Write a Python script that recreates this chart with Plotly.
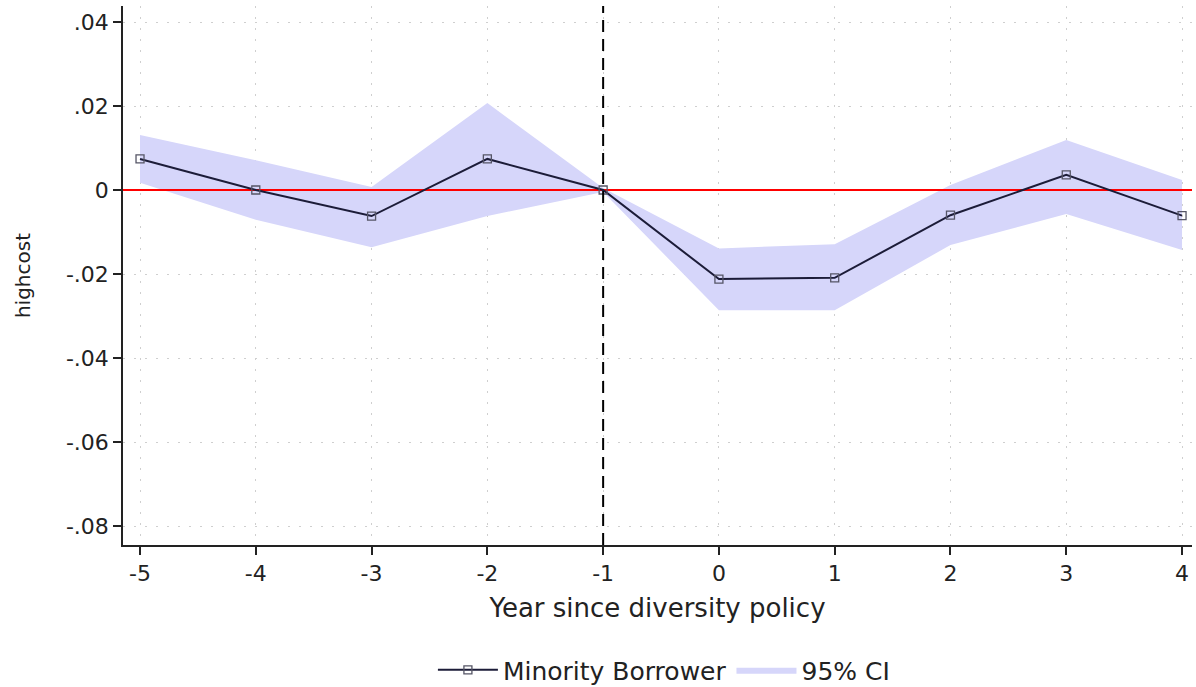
import plotly.graph_objects as go

# Event-study estimates for the minority-borrower coefficient
years = [-5, -4, -3, -2, -1, 0, 1, 2, 3, 4]
coef = [0.0074, 0.0000, -0.0062, 0.0074, 0.0000, -0.0212, -0.0209, -0.0060, 0.0036, -0.0061]
ci_upper = [0.0131, 0.0071, 0.0007, 0.0207, 0.0005, -0.0139, -0.0129, 0.0012, 0.0119, 0.0024]
ci_lower = [0.0017, -0.0071, -0.0136, -0.0062, -0.0005, -0.0286, -0.0286, -0.0131, -0.0057, -0.0143]

y_ticks = [0.04, 0.02, 0.0, -0.02, -0.04, -0.06, -0.08]
y_tick_labels = [".04", ".02", "0", "-.02", "-.04", "-.06", "-.08"]
x_ticks = years

font_family = "DejaVu Sans"
text_color = "#222222"
ci_fill = "rgb(214,214,250)"
grid_style = dict(showgrid=True, gridcolor="#cfcfcf", griddash="2px,9px", gridwidth=1.2)
axis_style = dict(showline=True, linecolor=text_color, linewidth=1.5,
                  ticks="outside", ticklen=8, tickwidth=1.5, tickcolor=text_color,
                  zeroline=False, automargin=False)

fig = go.Figure()

# Confidence band
fig.add_trace(go.Scatter(
    x=years, y=ci_lower, mode="lines", line=dict(width=0),
    showlegend=False, hoverinfo="skip",
))
fig.add_trace(go.Scatter(
    x=years, y=ci_upper, mode="lines", line=dict(width=0),
    fill="tonexty", fillcolor=ci_fill, name="95% CI",
))

# Zero reference line
fig.add_trace(go.Scatter(
    x=[-5.2, 4.2], y=[0, 0], mode="lines",
    line=dict(color="red", width=1.8), showlegend=False, hoverinfo="skip",
))

# Point estimates
fig.add_trace(go.Scatter(
    x=years, y=coef, mode="lines+markers", name="Minority Borrower",
    line=dict(color="#1c1c38", width=2),
    marker=dict(symbol="square-open", size=8, color="#555566",
                line=dict(width=1.3, color="#555566")),
))

# Policy year marker
fig.add_shape(type="line", x0=-1, x1=-1, y0=0, y1=1, yref="paper",
              line=dict(color="black", width=2, dash="12px,7px"), layer="above")

fig.update_layout(
    width=1196, height=687,
    margin=dict(l=123, r=4, t=6, b=142, autoexpand=False),
    plot_bgcolor="white", paper_bgcolor="white",
    font=dict(family=font_family, size=22, color=text_color),
    legend=dict(orientation="h", x=0.506, xanchor="center", y=-0.232,
                yanchor="middle", traceorder="reversed", itemwidth=60,
                font=dict(family=font_family, size=25, color=text_color)),
    xaxis=dict(
        range=[-5.147, 4.086], tickvals=x_ticks,
        ticktext=[str(v) for v in x_ticks],
        title=dict(text="Year since diversity policy", standoff=14,
                   font=dict(family=font_family, size=26, color=text_color)),
        **axis_style, **grid_style,
    ),
    yaxis=dict(
        range=[-0.08452, 0.04381], tickvals=y_ticks, ticktext=y_tick_labels,
        title=dict(text="highcost", standoff=30,
                   font=dict(family=font_family, size=20, color=text_color)),
        **axis_style, **grid_style,
    ),
)

fig.write_html("out.html")
